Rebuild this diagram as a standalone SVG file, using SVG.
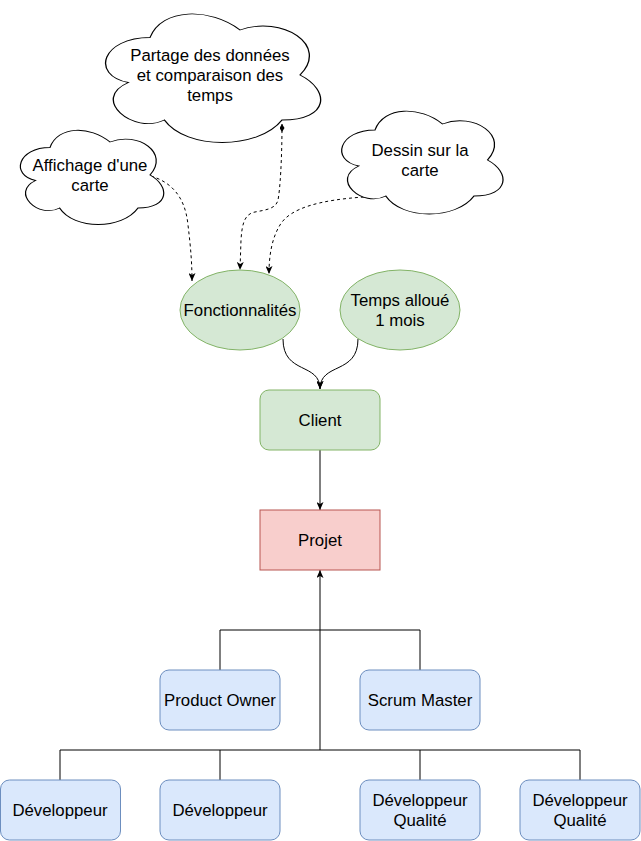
<svg xmlns="http://www.w3.org/2000/svg" width="641" height="841" viewBox="0 0 641 841">
<defs>
<style>
text{font-family:"Liberation Sans",Arial,sans-serif;font-size:16.8px;fill:#000;text-anchor:middle}
.cloud{fill:#fff;stroke:#000;stroke-width:1}
.green{fill:#d5e8d4;stroke:#82b366;stroke-width:1}
.red{fill:#f8cecc;stroke:#b85450;stroke-width:1}
.blue{fill:#dae8fc;stroke:#6c8ebf;stroke-width:1}
.edge{fill:none;stroke:#000;stroke-width:1}
.dash{stroke-dasharray:3 3}
</style>
<marker id="arr" markerUnits="userSpaceOnUse" viewBox="0 0 8 7" refX="8" refY="3.5" markerWidth="8" markerHeight="7" orient="auto">
<path d="M0,0 L8,3.5 L0,7 L2,3.5 Z" fill="#000"/>
</marker>
<marker id="dia" markerUnits="userSpaceOnUse" viewBox="0 0 8 5" refX="8" refY="2.5" markerWidth="8" markerHeight="5" orient="auto-start-reverse">
<path d="M0,2.5 L4,0 L8,2.5 L4,5 Z" fill="#000"/>
</marker>
<path id="cloudShape" d="M0.25,0.25 C0.05,0.25 0,0.5 0.16,0.55 C0,0.66 0.18,0.9 0.31,0.8 C0.4,1 0.7,1 0.8,0.8 C1,0.8 1,0.6 0.875,0.5 C1,0.3 0.8,0.1 0.625,0.2 C0.5,0.05 0.3,0.05 0.25,0.25 Z"/>
</defs>
<g id="connectors">
<path class="edge dash" d="M151,176 C170,182 185,195 188,225 C191,250 192,265 192,281" marker-end="url(#arr)"/>
<path class="edge dash" d="M282,124 C282,160 280,190 278,200 C276,209 265,210 255,212 C244,214 242,225 241,240 L240,270" marker-start="url(#dia)" marker-end="url(#arr)"/>
<path class="edge dash" d="M364,197 C320,200 290,208 280,225 C272,238 269,255 269,274" marker-end="url(#arr)"/>
<path class="edge" d="M283,339 C283,375 320,362 320,389" marker-end="url(#arr)"/>
<path class="edge" d="M358,339 C358,375 320,362 320,389" marker-end="url(#arr)"/>
<path class="edge" d="M320,450 L320,510" marker-end="url(#arr)"/>
<path class="edge" d="M320,750 L320,570" marker-end="url(#arr)"/>
<path class="edge" d="M220,670 L220,630 L420,630 L420,670"/>
<path class="edge" d="M60,780 L60,750 L580,750 L580,780"/>
<path class="edge" d="M220,780 L220,750"/>
<path class="edge" d="M420,780 L420,750"/>
</g>
<g id="partage">
<use href="#cloudShape" class="cloud" transform="translate(90,0) scale(240,150)" style="stroke-width:0.0055"/>
<text x="210" y="61">Partage des données</text>
<text x="210" y="81">et comparaison des</text>
<text x="210" y="101">temps</text>
</g>
<g id="affichage">
<use href="#cloudShape" class="cloud" transform="translate(10,120) scale(160,110)" style="stroke-width:0.0075"/>
<text x="90" y="171">Affichage d'une</text>
<text x="90" y="191">carte</text>
</g>
<g id="dessin">
<use href="#cloudShape" class="cloud" transform="translate(330,100) scale(180,120)" style="stroke-width:0.007"/>
<text x="420" y="156">Dessin sur la</text>
<text x="420" y="176">carte</text>
</g>
<g id="fonctionnalites">
<ellipse class="green" cx="240" cy="310" rx="60" ry="40"/>
<text x="240" y="316">Fonctionnalités</text>
</g>
<g id="temps">
<ellipse class="green" cx="400" cy="310" rx="60" ry="40"/>
<text x="400" y="306">Temps alloué</text>
<text x="400" y="326">1 mois</text>
</g>
<g id="client">
<rect class="green" x="260" y="390" width="120" height="60" rx="9"/>
<text x="320" y="426">Client</text>
</g>
<g id="projet">
<rect class="red" x="260" y="510" width="120" height="60"/>
<text x="320" y="546">Projet</text>
</g>
<g id="productowner">
<rect class="blue" x="160" y="670" width="120" height="60" rx="9"/>
<text x="220" y="706">Product Owner</text>
</g>
<g id="scrummaster">
<rect class="blue" x="360" y="670" width="120" height="60" rx="9"/>
<text x="420" y="706">Scrum Master</text>
</g>
<g id="dev1">
<rect class="blue" x="0.5" y="780" width="120" height="60" rx="9"/>
<text x="60" y="816">Développeur</text>
</g>
<g id="dev2">
<rect class="blue" x="160" y="780" width="120" height="60" rx="9"/>
<text x="220" y="816">Développeur</text>
</g>
<g id="devq1">
<rect class="blue" x="360" y="780" width="120" height="60" rx="9"/>
<text x="420" y="806">Développeur</text>
<text x="420" y="826">Qualité</text>
</g>
<g id="devq2">
<rect class="blue" x="520" y="780" width="120" height="60" rx="9"/>
<text x="580" y="806">Développeur</text>
<text x="580" y="826">Qualité</text>
</g>
</svg>
